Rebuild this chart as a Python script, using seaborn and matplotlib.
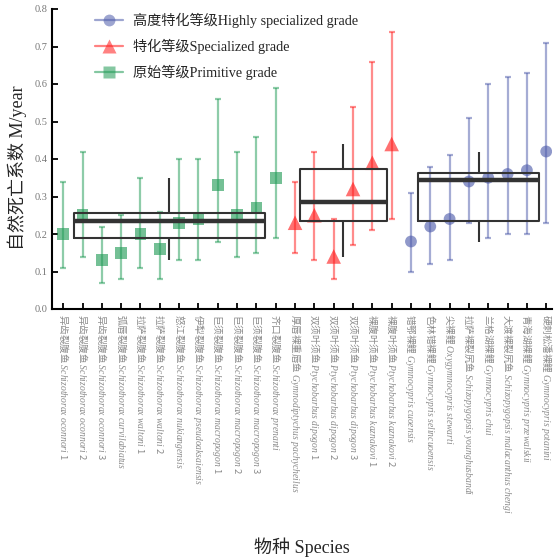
import numpy as np
import pandas as pd
import matplotlib
matplotlib.use("Agg")
import matplotlib.pyplot as plt
from matplotlib.lines import Line2D
import seaborn as sns

sns.set_style("ticks")
plt.rcParams['font.family'] = ['Liberation Serif', 'Noto Sans CJK SC', 'DejaVu Sans']
plt.rcParams['mathtext.fontset'] = 'custom'
plt.rcParams['mathtext.it'] = 'Liberation Serif:italic'
plt.rcParams['mathtext.rm'] = 'Liberation Serif'

# ---- data ----
cn_names = ["异齿裂腹鱼", "异齿裂腹鱼", "异齿裂腹鱼", "弧唇裂腹鱼", "拉萨裂腹鱼", "拉萨裂腹鱼",
            "怒江裂腹鱼", "伊犁裂腹鱼", "巨须裂腹鱼", "巨须裂腹鱼", "巨须裂腹鱼", "齐口裂腹鱼",
            "厚唇裸重唇鱼", "双须叶须鱼", "双须叶须鱼", "双须叶须鱼", "裸腹叶须鱼", "裸腹叶须鱼",
            "错鄂裸鲤", "色林错裸鲤", "尖裸鲤", "拉萨裸裂尻鱼", "兰格湖裸鲤", "大渡裸裂尻鱼",
            "青海湖裸鲤", "硬刺松潘裸鲤"]
latin_names = ["Schizothorax oconnori", "Schizothorax oconnori", "Schizothorax oconnori",
               "Schizothorax curvilabiatus", "Schizothorax waltoni", "Schizothorax waltoni",
               "Schizothorax nukiangensis", "Schizothorax pseudoaksaiensis",
               "Schizothorax macropogon", "Schizothorax macropogon", "Schizothorax macropogon",
               "Schizothorax prenanti", "Gymnodiptychus pachycheilus",
               "Ptychobarbus dipogon", "Ptychobarbus dipogon", "Ptychobarbus dipogon",
               "Ptychobarbus kaznakovi", "Ptychobarbus kaznakovi",
               "Gymnocypris cuoensis", "Gymnocypris selincuoensis", "Oxygymnocypris stewarti",
               "Schizopygopsis younghusbandi", "Gymnocypris chui",
               "Schizopygopsis malacanthus chengi", "Gymnocypris przewalskii",
               "Gymnocypris potanini"]
suffixes = ["1", "2", "3", "", "1", "2", "", "", "1", "2", "3", "", "",
            "1", "2", "3", "1", "2", "", "", "", "", "", "", "", ""]
grades = (["Primitive"] * 12) + (["Specialized"] * 6) + (["Highly"] * 8)
m_values = [0.20, 0.25, 0.13, 0.15, 0.20, 0.16, 0.23, 0.24, 0.33, 0.25, 0.27, 0.35,
            0.23, 0.25, 0.14, 0.32, 0.39, 0.44,
            0.18, 0.22, 0.24, 0.34, 0.35, 0.36, 0.37, 0.42]
m_lower = [0.11, 0.14, 0.07, 0.08, 0.11, 0.08, 0.13, 0.13, 0.18, 0.14, 0.15, 0.19,
           0.15, 0.13, 0.08, 0.17, 0.21, 0.24,
           0.10, 0.12, 0.13, 0.23, 0.19, 0.20, 0.20, 0.23]
m_upper = [0.34, 0.42, 0.22, 0.25, 0.35, 0.26, 0.40, 0.40, 0.56, 0.42, 0.46, 0.59,
           0.34, 0.42, 0.24, 0.54, 0.66, 0.74,
           0.31, 0.38, 0.41, 0.51, 0.60, 0.62, 0.63, 0.71]
legend_labels = {"Highly": "高度特化等级Highly specialized grade",
                 "Specialized": "特化等级Specialized grade",
                 "Primitive": "原始等级Primitive grade"}

colors = {"Highly": "#4d5baa", "Specialized": "#ff1a1a", "Primitive": "#1f9a55"}
markers = {"Highly": "o", "Specialized": "^", "Primitive": "s"}
msizes = {"Highly": 8.5, "Specialized": 10.5, "Primitive": 8.5}

df = pd.DataFrame({"pos": np.arange(len(m_values)), "grade": grades, "M": m_values,
                   "lo": m_lower, "hi": m_upper})

def make_label(cn, la, sf):
    s = cn + " $\\mathit{" + la.replace(" ", "\\ ") + "}$"
    if sf:
        s += " " + sf
    return s

tick_labels = [make_label(c, l, s) for c, l, s in zip(cn_names, latin_names, suffixes)]

fig = plt.figure(figsize=(5.54, 5.58), dpi=100)
ax = fig.add_axes([52 / 554, 1 - 309 / 558, 500 / 554, 300 / 558])

for g in ["Highly", "Specialized", "Primitive"]:
    sub = df[df.grade == g]
    ax.errorbar(sub.pos, sub.M, yerr=[sub.M - sub.lo, sub.hi - sub.M], fmt="none",
                ecolor=colors[g], alpha=0.5, elinewidth=1.6, capsize=2.5, capthick=1.6,
                zorder=2)
    sns.scatterplot(x=sub.pos, y=sub.M, marker=markers[g], color=colors[g], alpha=0.62,
                    s=msizes[g] ** 2, edgecolor="none", ax=ax, zorder=3, legend=False)

# boxplots per group, positioned at group centres
for g in ["Primitive", "Specialized", "Highly"]:
    sub = df[df.grade == g]
    n = len(sub)
    centre = sub.pos.mean()
    sns.boxplot(x=np.full(n, centre), y=sub.M.values, native_scale=True, orient="x",
                width=0.9 * (n - 1), fill=False, color="#333333", linewidth=1.5,
                whis=np.inf, showcaps=False,
                medianprops=dict(linewidth=3.2, color="#333333"), ax=ax, zorder=4)

ax.set_xlim(-0.58, 25.3)
ax.set_ylim(0, 0.8)
ax.set_yticks(np.arange(0, 0.81, 0.1))
ax.set_yticklabels([f"{v:.1f}" for v in np.arange(0, 0.81, 0.1)], fontsize=7.5, color="#777777")
ax.set_xticks(df.pos)
ax.set_xticklabels(tick_labels, rotation=270, fontsize=6.9, color="#8a8a8a",
                   ha="center", va="top", fontfamily="Noto Sans CJK SC")
ax.tick_params(axis="both", direction="in", length=4, width=1.3, color="black")
for s in ["top", "right"]:
    ax.spines[s].set_visible(False)
for s in ["left", "bottom"]:
    ax.spines[s].set_linewidth(1.5)
    ax.spines[s].set_color("black")

ax.set_ylabel("自然死亡系数 M/year", fontsize=13)
ax.yaxis.set_label_coords(-0.05, 0.47)
ax.set_xlabel("物种 Species", fontsize=13)
ax.xaxis.set_label_coords(0.5, -0.76)

handles = []
for g in ["Highly", "Specialized", "Primitive"]:
    handles.append(Line2D([0], [0], color=colors[g], marker=markers[g], markersize=msizes[g] * 1.0,
                          alpha=0.55, linewidth=1.6, markeredgecolor="none",
                          label=legend_labels[g]))
ax.legend(handles=handles, loc="upper left", bbox_to_anchor=(0.06, 1.03), frameon=False,
          fontsize=10.2, labelspacing=0.75, handlelength=2.0, handletextpad=0.7)

fig.savefig("out.png", dpi=100)
